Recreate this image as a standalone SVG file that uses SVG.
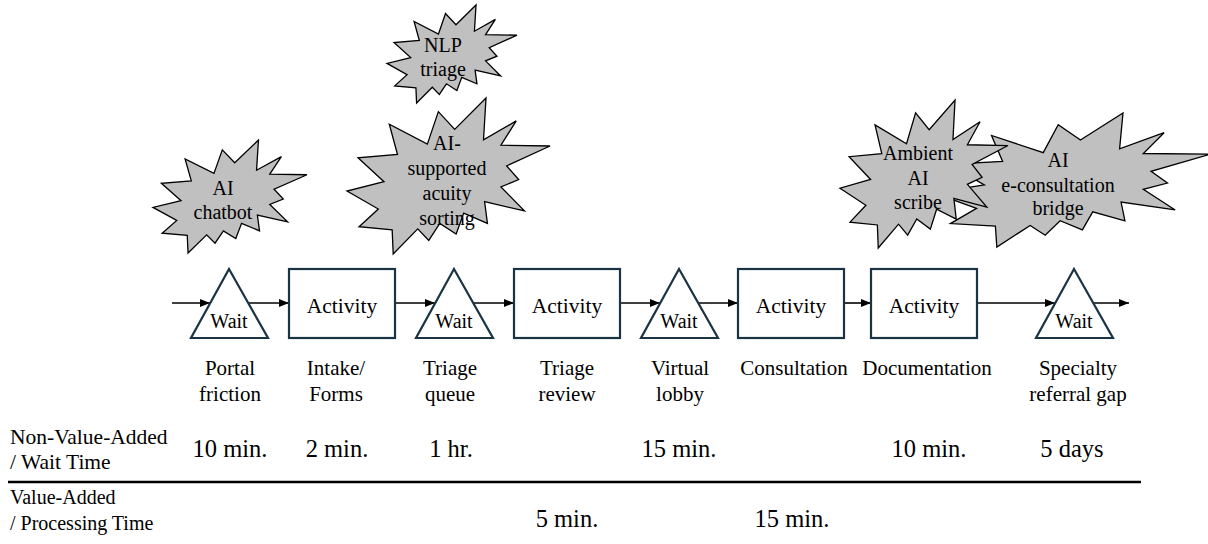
<svg xmlns="http://www.w3.org/2000/svg" xmlns:xlink="http://www.w3.org/1999/xlink" width="1208" height="544" viewBox="0 0 1208 544" font-family="'Liberation Serif', Tinos, 'Times New Roman', 'DejaVu Serif', serif">
<style>
text{font-family:'Liberation Serif', Tinos, 'Times New Roman', 'DejaVu Serif', serif;fill:#000}
.bt{font-size:20px;text-anchor:middle}
.burst{fill:#c0c0c0;stroke:#000;stroke-width:1.3}
.step{fill:#fff;stroke:#1b3444;stroke-width:2.2}
.wt{font-size:20px;text-anchor:middle}
.at{font-size:21.5px;text-anchor:middle}
.lb{font-size:21px;text-anchor:middle}
.val{font-size:24.5px;text-anchor:middle}
.hd1{font-size:21.5px}
.hd2{font-size:20px}
.conn{stroke:#000;stroke-width:1.6;fill:none}
</style>
<defs>
<path id="seal" vector-effect="non-scaling-stroke" d="M0.53065,0.20102 L0.68472,0 L0.67245,0.26745 L0.83366,0.14685 L0.75833,0.30241 L1,0.30764 L0.78634,0.43528 L0.84583,0.52269 L0.75833,0.56991 L0.87394,0.7237 L0.67778,0.66435 L0.69176,0.80417 L0.57509,0.73773 L0.53759,0.87231 L0.45704,0.80417 L0.40278,0.91259 L0.34847,0.83912 L0.22764,1 L0.22245,0.84444 L0.05949,0.82523 L0.15417,0.71157 L0,0.59616 L0.18218,0.53671 L0.05426,0.38287 L0.2487,0.3619 L0.20843,0.16782 L0.39583,0.2956 L0.45009,0.08736 Z"/>
<marker id="ah" viewBox="0 0 10 10" refX="10" refY="5" markerWidth="10" markerHeight="10" markerUnits="userSpaceOnUse" orient="auto"><path d="M0,1 L10,5 L0,9 Z" fill="#000"/></marker>
</defs>

<g id="burst-chatbot">
<use xlink:href="#seal" class="burst" transform="translate(153,140) scale(154,113)"/>
<text class="bt" x="223" y="195" font-size="21">AI</text>
<text class="bt" x="223" y="219" font-size="21">chatbot</text>
</g>
<g id="burst-nlp">
<use xlink:href="#seal" class="burst" transform="translate(387,5) scale(130,98)"/>
<text class="bt" x="443" y="52">NLP</text>
<text class="bt" x="443" y="76">triage</text>
</g>
<g id="burst-acuity">
<use xlink:href="#seal" class="burst" transform="translate(347,98) scale(203,156)"/>
<text class="bt" x="447" y="150">AI-</text>
<text class="bt" x="447" y="175">supported</text>
<text class="bt" x="447" y="200">acuity</text>
<text class="bt" x="447" y="225">sorting</text>
</g>
<g id="burst-econsult">
<use xlink:href="#seal" class="burst" transform="translate(934,113) scale(276,134)"/>
<text class="bt" x="1058" y="167">AI</text>
<text class="bt" x="1058" y="192">e-consultation</text>
<text class="bt" x="1058" y="215">bridge</text>
</g>
<g id="burst-scribe">
<use xlink:href="#seal" class="burst" transform="translate(840,100) scale(168,148)"/>
<text class="bt" x="918" y="160">Ambient</text>
<text class="bt" x="918" y="185">AI</text>
<text class="bt" x="918" y="209">scribe</text>
</g>

<g id="connectors">
<line class="conn" x1="172" y1="303" x2="210" y2="303" marker-end="url(#ah)"/>
<line class="conn" x1="248" y1="303" x2="289" y2="303" marker-end="url(#ah)"/>
<line class="conn" x1="395" y1="303" x2="435" y2="303" marker-end="url(#ah)"/>
<line class="conn" x1="473" y1="303" x2="514" y2="303" marker-end="url(#ah)"/>
<line class="conn" x1="620" y1="303" x2="660" y2="303" marker-end="url(#ah)"/>
<line class="conn" x1="698" y1="303" x2="738" y2="303" marker-end="url(#ah)"/>
<line class="conn" x1="844" y1="303" x2="871" y2="303" marker-end="url(#ah)"/>
<line class="conn" x1="977" y1="303" x2="1055" y2="303" marker-end="url(#ah)"/>
<line class="conn" x1="1093" y1="303" x2="1129" y2="303" marker-end="url(#ah)"/>
</g>

<g id="wait-portal">
<polygon class="step" points="229,269 268,338 191,338"/>
<text class="wt" x="229" y="328">Wait</text>
</g>
<g id="activity-intake">
<rect class="step" x="289" y="269" width="106" height="69"/>
<text class="at" x="342" y="313">Activity</text>
</g>
<g id="wait-triage">
<polygon class="step" points="454,269 493,338 416,338"/>
<text class="wt" x="454" y="328">Wait</text>
</g>
<g id="activity-triage">
<rect class="step" x="514" y="269" width="106" height="69"/>
<text class="at" x="567" y="313">Activity</text>
</g>
<g id="wait-lobby">
<polygon class="step" points="679,269 718,338 641,338"/>
<text class="wt" x="679" y="328">Wait</text>
</g>
<g id="activity-consult">
<rect class="step" x="738" y="269" width="106" height="69"/>
<text class="at" x="791" y="313">Activity</text>
</g>
<g id="activity-doc">
<rect class="step" x="871" y="269" width="106" height="69"/>
<text class="at" x="924" y="313">Activity</text>
</g>
<g id="wait-referral">
<polygon class="step" points="1074,269 1113,338 1036,338"/>
<text class="wt" x="1074" y="328">Wait</text>
</g>

<g id="labels">
<text class="lb" x="230" y="375">Portal</text><text class="lb" x="230" y="401">friction</text>
<text class="lb" x="336" y="375">Intake/</text><text class="lb" x="336" y="401">Forms</text>
<text class="lb" x="450" y="375">Triage</text><text class="lb" x="450" y="401">queue</text>
<text class="lb" x="567" y="375">Triage</text><text class="lb" x="567" y="401">review</text>
<text class="lb" x="680" y="375">Virtual</text><text class="lb" x="680" y="401">lobby</text>
<text class="lb" x="794" y="375">Consultation</text>
<text class="lb" x="927" y="375">Documentation</text>
<text class="lb" x="1078" y="375">Specialty</text><text class="lb" x="1078" y="401">referral gap</text>
</g>

<g id="timeline">
<text class="hd1" x="10" y="444">Non-Value-Added</text>
<text class="hd1" x="10" y="469">/ Wait Time</text>
<text class="val" x="230" y="457">10 min.</text>
<text class="val" x="337" y="457">2 min.</text>
<text class="val" x="451" y="457">1 hr.</text>
<text class="val" x="679" y="457">15 min.</text>
<text class="val" x="929" y="457">10 min.</text>
<text class="val" x="1072" y="457">5 days</text>
<line x1="8" y1="482" x2="1141" y2="482" stroke="#000" stroke-width="2.5"/>
<text class="hd2" x="10" y="504">Value-Added</text>
<text class="hd2" x="10" y="530">/ Processing Time</text>
<text class="val" x="567" y="527">5 min.</text>
<text class="val" x="792" y="527">15 min.</text>
</g>
</svg>
